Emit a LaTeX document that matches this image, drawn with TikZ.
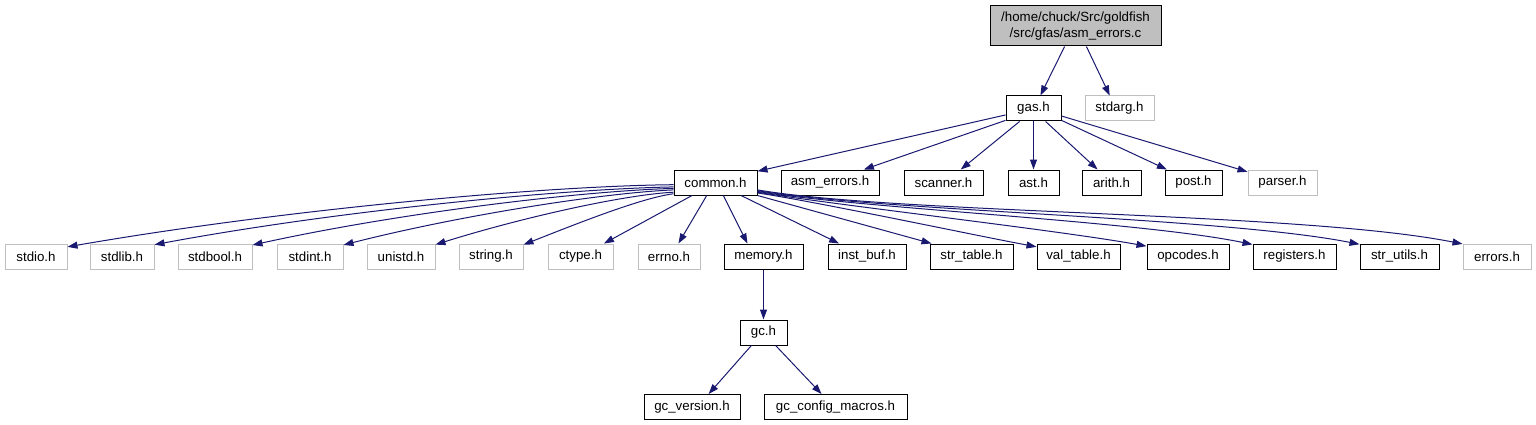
\documentclass[tikz,border=0pt]{standalone}
\usepackage{fontspec}
\setmainfont{Liberation Sans}
\usetikzlibrary{arrows.meta}
\definecolor{link}{HTML}{191970}
\definecolor{extern}{HTML}{BFBFBF}

\begin{document}
\begin{tikzpicture}[x=1pt, y=-1pt,
  hdr/.style={draw=black, line width=1pt, inner sep=0pt, minimum height=25pt,
    font=\fontsize{13.3}{16}\selectfont},
  sys/.style={hdr, draw=extern},
  dep/.style={draw=link, line width=1pt, -{Triangle[length=10pt,width=7pt]}}]
  \useasboundingbox (0,0) rectangle (1536,425);

  % file and its direct includes
  \node[hdr, fill=extern, minimum width=171pt, minimum height=40pt, align=center]
    (main) at (1075.5,26) {/home/chuck/Src/goldfish\\/src/gfas/asm\_errors.c};
  \node[hdr, minimum width=55pt] (gas) at (1033.5,108.5) {gas.h};
  \node[sys, minimum width=69pt] (stdarg) at (1119.5,108.5) {stdarg.h};

  % includes of gas.h
  \node[hdr, minimum width=83pt] (common) at (715.5,182.5) {common.h};
  \node[hdr, minimum width=98pt] (asmerrors) at (830,182.5) {asm\_errors.h};
  \node[hdr, minimum width=79pt] (scanner) at (943.5,182.5) {scanner.h};
  \node[hdr, minimum width=51pt] (ast) at (1033.5,182.5) {ast.h};
  \node[hdr, minimum width=59pt] (arith) at (1111.5,182.5) {arith.h};
  \node[hdr, minimum width=57pt] (post) at (1193.5,182.5) {post.h};
  \node[sys, minimum width=69pt] (parser) at (1282.5,182.5) {parser.h};

  % includes of common.h
  \node[sys, minimum width=62pt] (stdio) at (36,256.5) {stdio.h};
  \node[sys, minimum width=64pt] (stdlib) at (122,256.5) {stdlib.h};
  \node[sys, minimum width=74pt] (stdbool) at (215,256.5) {stdbool.h};
  \node[sys, minimum width=66pt] (stdint) at (310,256.5) {stdint.h};
  \node[sys, minimum width=68pt] (unistd) at (401,256.5) {unistd.h};
  \node[sys, minimum width=64pt] (string) at (491,256.5) {string.h};
  \node[sys, minimum width=65pt] (ctype) at (580.5,256.5) {ctype.h};
  \node[sys, minimum width=62pt] (errno) at (669,256.5) {errno.h};
  \node[hdr, minimum width=79pt] (memory) at (763.5,256.5) {memory.h};
  \node[hdr, minimum width=78pt] (instbuf) at (867,256.5) {inst\_buf.h};
  \node[hdr, minimum width=83pt] (strtable) at (971.5,256.5) {str\_table.h};
  \node[hdr, minimum width=83pt] (valtable) at (1078.5,256.5) {val\_table.h};
  \node[hdr, minimum width=82pt] (opcodes) at (1188,256.5) {opcodes.h};
  \node[hdr, minimum width=83pt] (registers) at (1294.5,256.5) {registers.h};
  \node[hdr, minimum width=79pt] (strutils) at (1399.5,256.5) {str\_utils.h};
  \node[sys, minimum width=68pt] (errors) at (1497,256.5) {errors.h};

  % memory.h and gc.h
  \node[hdr, minimum width=47pt] (gc) at (763.5,332.5) {gc.h};
  \node[hdr, minimum width=96pt] (gcversion) at (692,407) {gc\_version.h};
  \node[hdr, minimum width=143pt] (gcconfig) at (835.5,407) {gc\_config\_macros.h};

  \draw[dep] (main.242) -- (gas.62);
  \draw[dep] (main.298) -- (stdarg.127);

  \draw[dep] (gas.193) -- (common.15);
  \draw[dep] (gas.203) -- (asmerrors.21);
  \draw[dep] (gas.223) -- (scanner.37);
  \draw[dep] (gas.south) -- (ast.north);
  \draw[dep] (gas.313) -- (arith.137);
  \draw[dep] (gas.337) -- (post.154);
  \draw[dep] (gas.345) -- (parser.163);

  % left fan
  \draw[dep] (common.183) .. controls (540,186) and (280,210) .. (stdio.17);
  \draw[dep] (common.186) .. controls (560,189) and (335,211) .. (stdlib.20);
  \draw[dep] (common.188) .. controls (581,191) and (398,213) .. (stdbool.17);
  \draw[dep] (common.190) .. controls (601,193) and (457,216) .. (stdint.19);
  \draw[dep] (common.193) .. controls (621,195) and (517,219) .. (unistd.19);
  \draw[dep] (common.195) .. controls (641,198) and (576,224) .. (string.20);
  \draw[dep] (common.209) -- (ctype.29);
  \draw[dep] (common.236) -- (errno.54);
  \draw[dep] (common.301) -- (memory.141);
  \draw[dep] (common.333) -- (instbuf.155);
  \draw[dep] (common.south east) -- (strtable.162);

  % right fan
  \draw[dep] (common.346) .. controls (813,201) and (973,235) .. (valtable.167);
  \draw[dep] (common.347) .. controls (835,205) and (1057,230) .. (opcodes.166);
  \draw[dep] (common.348) .. controls (856,208) and (1139,221) .. (registers.164);
  \draw[dep] (common.349) .. controls (878,211) and (1221,217) .. (strutils.163);
  \draw[dep] (common.350) .. controls (899,214) and (1302,212) .. (errors.160);

  \draw[dep] (memory.south) -- (gc.north);
  \draw[dep] (gc.227) -- (gcversion.38);
  \draw[dep] (gc.313) -- (gcconfig.137);
\end{tikzpicture}
\end{document}
